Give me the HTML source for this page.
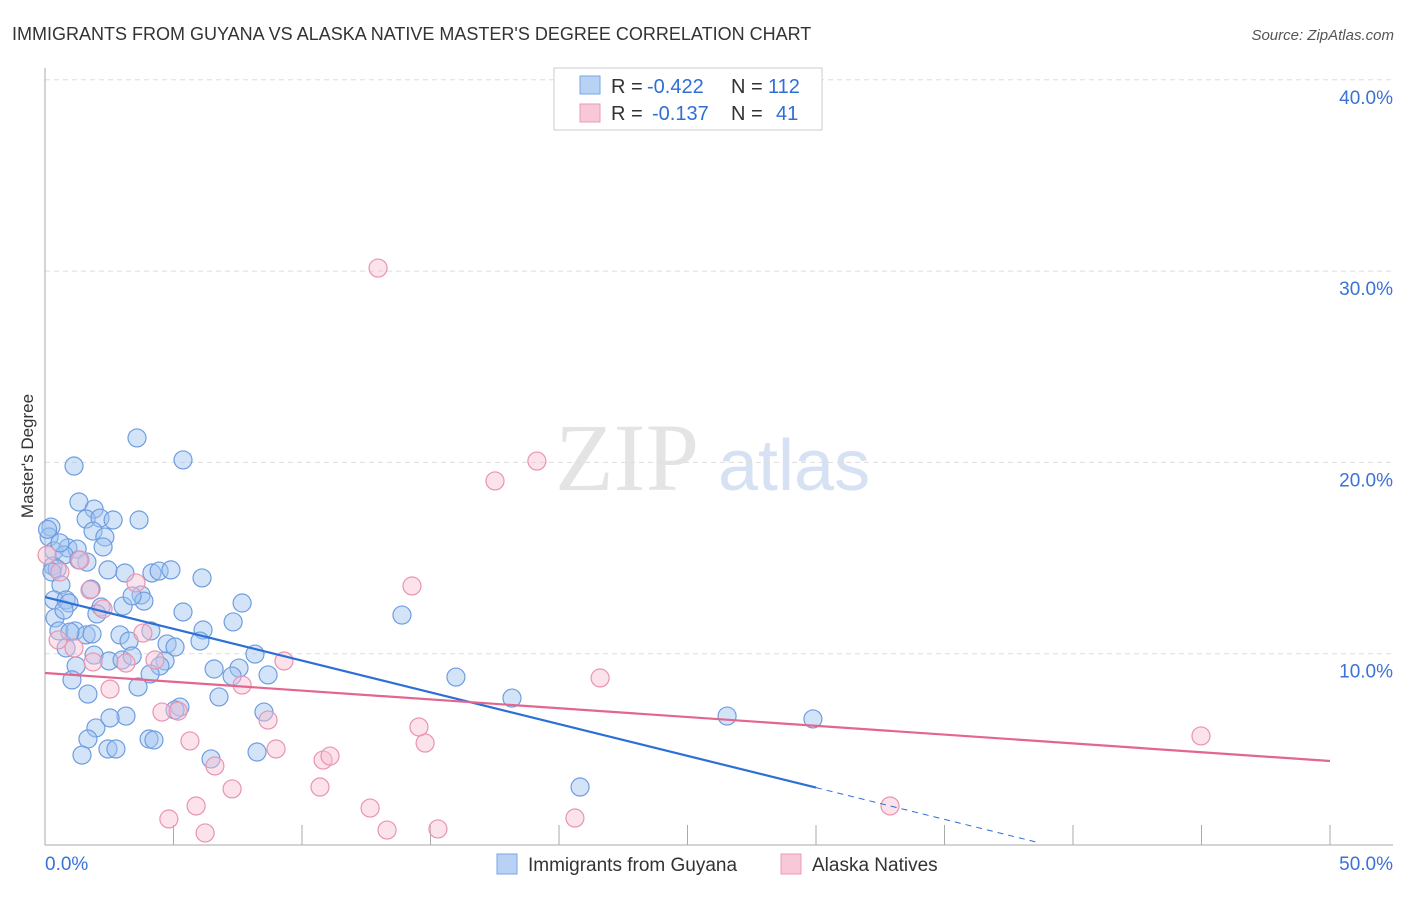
<!DOCTYPE html>
<html><head><meta charset="utf-8"><style>
body{margin:0;background:#fff;font-family:"Liberation Sans",sans-serif;}
</style></head><body>
<svg id="chart" width="1406" height="892" xmlns="http://www.w3.org/2000/svg" font-family="Liberation Sans, sans-serif">
<text x="12" y="40" font-size="18" fill="#333">IMMIGRANTS FROM GUYANA VS ALASKA NATIVE MASTER'S DEGREE CORRELATION CHART</text>
<text x="1394" y="40" font-size="15" fill="#555" text-anchor="end" font-style="italic">Source: ZipAtlas.com</text>
<text x="555" y="490" font-size="96" fill="#e4e4e4" font-family="Liberation Serif, serif">ZIP</text>
<text x="718" y="490" font-size="72" fill="#d6e2f3">atlas</text>
<text transform="translate(33,456) rotate(-90)" font-size="17" fill="#333" text-anchor="middle">Master's Degree</text>
<g id="grid"></g><g id="pts"></g><g id="lines"></g>
<g>
<rect x="554" y="68" width="268" height="62" fill="#fff" stroke="#ccc"/>
<rect x="580" y="76" width="20" height="18" fill="#b8d2f5" stroke="#7aa5e5"/>
<rect x="580" y="104" width="20" height="18" fill="#f9c8d8" stroke="#eb9ab5"/>
<text x="611" y="93" font-size="20" fill="#333">R =</text>
<text x="647" y="93" font-size="20" fill="#2f6fd4">-0.422</text>
<text x="731" y="93" font-size="20" fill="#333">N =</text>
<text x="768" y="93" font-size="20" fill="#2f6fd4">112</text>
<text x="611" y="120" font-size="20" fill="#333">R =</text>
<text x="652" y="120" font-size="20" fill="#2f6fd4">-0.137</text>
<text x="731" y="120" font-size="20" fill="#333">N =</text>
<text x="776" y="120" font-size="20" fill="#2f6fd4">41</text>
</g>
<g>
<rect x="497" y="854" width="20" height="20" fill="#b8d2f5" stroke="#7aa5e5"/>
<text x="528" y="871" font-size="19" fill="#333">Immigrants from Guyana</text>
<rect x="781" y="854" width="20" height="20" fill="#f9c8d8" stroke="#eb9ab5"/>
<text x="812" y="871" font-size="19" fill="#333">Alaska Natives</text>
</g>
</svg>
<script>
const blueX=[3.58,5.37,1.13,1.32,1.91,1.60,2.14,2.65,3.66,0.23,1.87,2.33,0.16,0.35,0.89,1.25,2.26,0.74,1.63,0.31,0.47,0.27,2.45,3.11,4.16,4.44,4.90,6.11,0.62,1.79,3.74,7.67,0.35,0.82,0.93,2.18,3.04,3.85,3.39,5.37,2.02,0.39,7.32,0.54,1.17,1.60,0.97,1.83,2.92,4.12,6.15,3.27,4.75,5.06,6.03,0.82,1.91,2.49,3.00,3.39,4.67,8.17,1.21,6.58,7.55,4.47,4.09,7.28,8.68,1.05,3.62,1.67,6.77,5.25,5.06,8.52,3.15,1.98,2.53,1.67,4.05,4.24,2.45,2.76,1.44,6.46,8.25,13.89,15.99,18.17,26.54,29.88,20.82,0.74,1.32,0.58,0.1];
const blueY=[21.28,20.13,19.81,17.93,17.56,17.04,17.09,16.99,16.99,16.62,16.41,16.10,16.10,15.37,15.53,15.47,15.58,15.16,14.79,14.58,14.43,14.27,14.38,14.22,14.22,14.32,14.38,13.96,13.59,13.38,13.07,12.65,12.81,12.81,12.65,12.44,12.49,12.75,13.02,12.18,12.08,11.87,11.66,11.19,11.19,10.98,11.13,11.03,10.98,11.19,11.24,10.66,10.51,10.35,10.66,10.30,9.93,9.62,9.67,9.88,9.62,9.98,9.36,9.20,9.25,9.36,8.94,8.83,8.89,8.63,8.26,7.89,7.74,7.21,7.06,6.95,6.74,6.12,6.64,5.54,5.54,5.49,5.02,5.02,4.70,4.50,4.86,12.02,8.78,7.68,6.74,6.59,3.03,12.28,14.90,15.79,16.5];
const pinkX=[12.96,19.14,17.51,14.28,9.30,21.60,44.98,32.88,2.53,4.55,5.64,6.61,7.28,8.68,8.99,10.70,10.82,11.09,12.65,13.31,15.29,20.62,14.79,14.55,5.88,4.82,6.23,7.67,0.51,1.13,1.87,2.26,3.54,3.81,4.28,3.15,5.18,1.75,1.36,0.58,0.08];
const pinkY=[30.16,20.07,19.03,13.54,9.62,8.73,5.70,2.04,8.15,6.95,5.44,4.13,2.93,6.53,5.02,3.03,4.44,4.65,1.93,0.78,0.84,1.41,5.33,6.17,2.04,1.36,0.63,8.36,10.72,10.30,9.57,12.34,13.70,11.08,9.67,9.51,7.00,13.33,14.90,14.27,15.16];
const blueTrend=[12.96,-0.332];
const pinkTrend=[8.99,-0.092];
const yTicks=[10,20,30,40];
const xTicks=[0,5,10,15,20,25,30,35,40,45,50];
const NS="http://www.w3.org/2000/svg";
const xs=v=>45+v*25.7, ys=v=>845-v*19.13;
function mk(tag,attrs,parent){const e=document.createElementNS(NS,tag);for(const k in attrs)e.setAttribute(k,attrs[k]);document.getElementById(parent).appendChild(e);return e;}
yTicks.forEach(t=>{
 const l=mk('line',{x1:45,x2:1393,y1:ys(t),y2:ys(t),stroke:'#ddd','stroke-dasharray':'5,4'},'grid');
 
 
 const tx=mk('text',{x:1393,y:ys(t)+24,'font-size':19,fill:'#3a72d8','text-anchor':'end'},'grid');
 tx.textContent=t.toFixed(1)+'%';
 
 
});
mk('line',{x1:45,x2:45,y1:68,y2:845,stroke:'#aaa'},'grid');
mk('line',{x1:45,x2:1393,y1:845,y2:845,stroke:'#aaa'},'grid');
xTicks.forEach(t=>{const l=mk('line',{x1:xs(t),x2:xs(t),y1:825,y2:845,stroke:'#aaa'},'grid');
 
 });
let a=mk('text',{x:45,y:870,'font-size':19,fill:'#3a72d8'},'grid');a.textContent=xTicks[0].toFixed(1)+'%';


a=mk('text',{x:1393,y:870,'font-size':19,fill:'#3a72d8','text-anchor':'end'},'grid');a.textContent=xTicks[xTicks.length-1].toFixed(1)+'%';


blueX.forEach((x,i)=>{const c=mk('circle',{cx:xs(x),cy:ys(blueY[i]),r:9,fill:'rgba(160,196,240,0.45)',stroke:'#6f9de0','stroke-width':1.2},'pts');
 
 });
pinkX.forEach((x,i)=>{const c=mk('circle',{cx:xs(x),cy:ys(pinkY[i]),r:9,fill:'rgba(248,190,210,0.45)',stroke:'#e994b1','stroke-width':1.2},'pts');
 
 });
const bf=x=>blueTrend[0]+blueTrend[1]*x, pf=x=>pinkTrend[0]+pinkTrend[1]*x;
let l=mk('line',{x1:xs(0),y1:ys(bf(0)),x2:xs(30),y2:ys(bf(30)),stroke:'#2d6fd6','stroke-width':2.2},'lines');


l=mk('line',{x1:xs(30),y1:ys(bf(30)),x2:xs(38.7),y2:ys(bf(38.7)),stroke:'#2d6fd6','stroke-width':1,'stroke-dasharray':'6,5'},'lines');


l=mk('line',{x1:xs(0),y1:ys(pf(0)),x2:xs(50),y2:ys(pf(50)),stroke:'#e2668f','stroke-width':2.2},'lines');


</script>
</body></html>
